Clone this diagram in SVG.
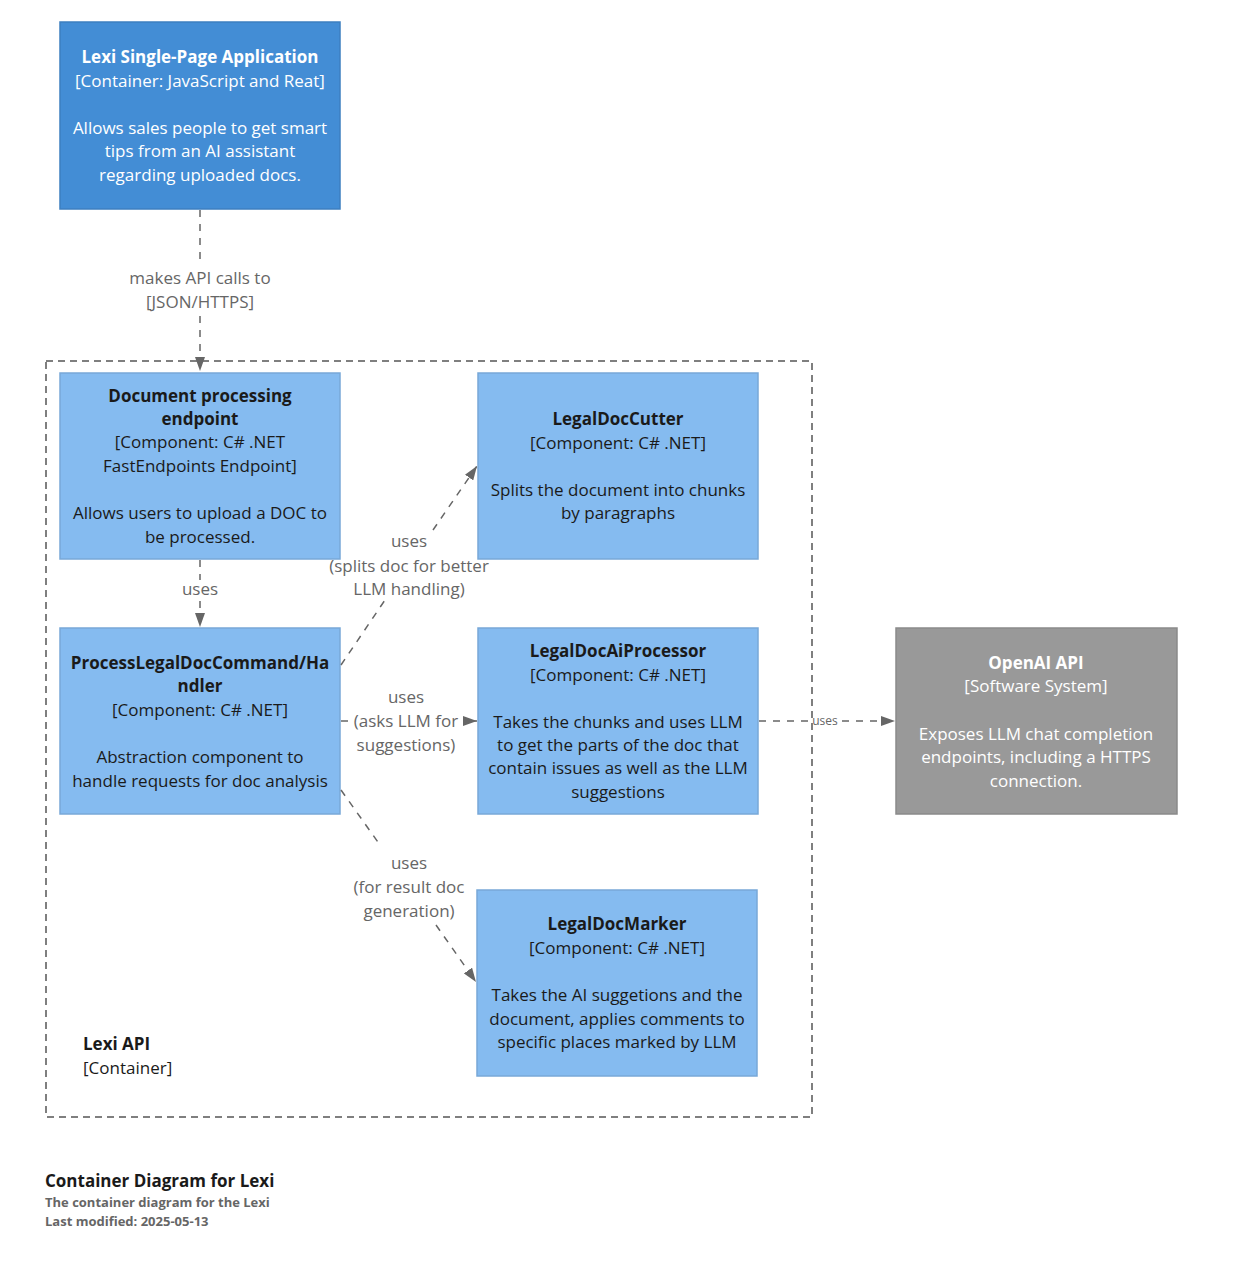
<svg xmlns="http://www.w3.org/2000/svg" width="1234" height="1265" viewBox="0 0 1234 1265">
<style>
text{font-family:"Open Sans","Noto Sans","DejaVu Sans",sans-serif;font-size:17px;text-anchor:middle}
.b{font-weight:bold}
.w{fill:#FFFFFF}
.k{fill:#1a1a1a}
.lab{fill:#666666}
.sm{font-size:12px}
.comp{fill:#85BBF0;stroke:#78A8D8;stroke-width:1.5}
.cont{fill:#438DD5;stroke:#3C7FC0;stroke-width:1.5}
.ext{fill:#999999;stroke:#8A8A8A;stroke-width:1.5}
.ln{stroke:#666666;stroke-width:1.5;stroke-dasharray:7,7;fill:none}
</style>
<defs>
<marker id="ah" viewBox="0 0 14 10" refX="14" refY="5" markerWidth="14" markerHeight="10" markerUnits="userSpaceOnUse" orient="auto">
<path d="M0,0 L14,5 L0,10 Z" fill="#666666"/>
</marker>
</defs>
<rect width="1234" height="1265" fill="#FFFFFF"/>

<g id="boundary-lexi-api">
<rect x="46" y="361" width="766" height="756" fill="none" stroke="#555555" stroke-width="1.5" stroke-dasharray="7,5"/>
<text x="83" y="1050" class="b k" style="text-anchor:start">Lexi API</text>
<text x="83" y="1074" class="k" style="text-anchor:start">[Container]</text>
</g>

<g id="node-spa">
<rect class="cont" x="60" y="22" width="280" height="187"/>
<text x="200" y="63" class="b w">Lexi Single-Page Application</text>
<text x="200" y="87" class="w">[Container: JavaScript and Reat]</text>
<text x="200" y="134" class="w">Allows sales people to get smart</text>
<text x="200" y="157" class="w">tips from an AI assistant</text>
<text x="200" y="181" class="w">regarding uploaded docs.</text>
</g>

<g id="node-endpoint">
<rect class="comp" x="60" y="373" width="280" height="186"/>
<text x="200" y="402" class="b k">Document processing</text>
<text x="200" y="425" class="b k">endpoint</text>
<text x="200" y="448" class="k">[Component: C# .NET</text>
<text x="200" y="472" class="k">FastEndpoints Endpoint]</text>
<text x="200" y="519" class="k">Allows users to upload a DOC to</text>
<text x="200" y="543" class="k">be processed.</text>
</g>

<g id="node-handler">
<rect class="comp" x="60" y="628" width="280" height="186"/>
<text x="200" y="669" class="b k">ProcessLegalDocCommand/Ha</text>
<text x="200" y="692" class="b k">ndler</text>
<text x="200" y="716" class="k">[Component: C# .NET]</text>
<text x="200" y="763" class="k">Abstraction component to</text>
<text x="200" y="787" class="k">handle requests for doc analysis</text>
</g>

<g id="node-cutter">
<rect class="comp" x="478" y="373" width="280" height="186"/>
<text x="618" y="425" class="b k">LegalDocCutter</text>
<text x="618" y="449" class="k">[Component: C# .NET]</text>
<text x="618" y="496" class="k">Splits the document into chunks</text>
<text x="618" y="519" class="k">by paragraphs</text>
</g>

<g id="node-aiprocessor">
<rect class="comp" x="478" y="628" width="280" height="186"/>
<text x="618" y="657" class="b k">LegalDocAiProcessor</text>
<text x="618" y="681" class="k">[Component: C# .NET]</text>
<text x="618" y="728" class="k">Takes the chunks and uses LLM</text>
<text x="618" y="751" class="k">to get the parts of the doc that</text>
<text x="618" y="774" class="k">contain issues as well as the LLM</text>
<text x="618" y="798" class="k">suggestions</text>
</g>

<g id="node-marker">
<rect class="comp" x="477" y="890" width="280" height="186"/>
<text x="617" y="930" class="b k">LegalDocMarker</text>
<text x="617" y="954" class="k">[Component: C# .NET]</text>
<text x="617" y="1001" class="k">Takes the AI suggetions and the</text>
<text x="617" y="1025" class="k">document, applies comments to</text>
<text x="617" y="1048" class="k">specific places marked by LLM</text>
</g>

<g id="node-openai">
<rect class="ext" x="896" y="628" width="281" height="186"/>
<text x="1036" y="669" class="b w">OpenAI API</text>
<text x="1036" y="692" class="w">[Software System]</text>
<text x="1036" y="740" class="w">Exposes LLM chat completion</text>
<text x="1036" y="763" class="w">endpoints, including a HTTPS</text>
<text x="1036" y="787" class="w">connection.</text>
</g>

<g id="connectors">
<line class="ln" x1="200" y1="210" x2="200" y2="262"/>
<line class="ln" x1="200" y1="316" x2="200" y2="371" marker-end="url(#ah)"/>
<text x="200" y="284" class="lab">makes API calls to</text>
<text x="200" y="308" class="lab">[JSON/HTTPS]</text>

<line class="ln" x1="200" y1="560" x2="200" y2="580"/>
<line class="ln" x1="200" y1="601" x2="200" y2="627" marker-end="url(#ah)"/>
<text x="200" y="595" class="lab">uses</text>

<line class="ln" x1="341" y1="665" x2="385" y2="600"/>
<line class="ln" x1="433" y1="530" x2="477" y2="466" marker-end="url(#ah)"/>
<text x="409" y="547" class="lab">uses</text>
<text x="409" y="572" class="lab">(splits doc for better</text>
<text x="409" y="595" class="lab">LLM handling)</text>

<line class="ln" x1="341" y1="721" x2="349" y2="721"/>
<line x1="463" y1="721" x2="477" y2="721" stroke="#666666" stroke-width="1.5" marker-end="url(#ah)"/>
<text x="406" y="703" class="lab">uses</text>
<text x="406" y="727" class="lab">(asks LLM for</text>
<text x="406" y="751" class="lab">suggestions)</text>

<line class="ln" x1="341" y1="790" x2="380" y2="845"/>
<line class="ln" x1="436" y1="925" x2="476" y2="982" marker-end="url(#ah)"/>
<text x="409" y="869" class="lab">uses</text>
<text x="409" y="893" class="lab">(for result doc</text>
<text x="409" y="917" class="lab">generation)</text>

<line class="ln" x1="759" y1="721" x2="808" y2="721"/>
<line class="ln" x1="842" y1="721" x2="895" y2="721" marker-end="url(#ah)"/>
<text x="825" y="725" class="lab sm">uses</text>
</g>

<g id="legend">
<text x="45" y="1187" class="b k" style="text-anchor:start;font-size:17px">Container Diagram for Lexi</text>
<text x="45" y="1207" class="b lab" style="text-anchor:start;font-size:13px">The container diagram for the Lexi</text>
<text x="45" y="1226" class="b lab" style="text-anchor:start;font-size:13px">Last modified: 2025-05-13</text>
</g>
</svg>
